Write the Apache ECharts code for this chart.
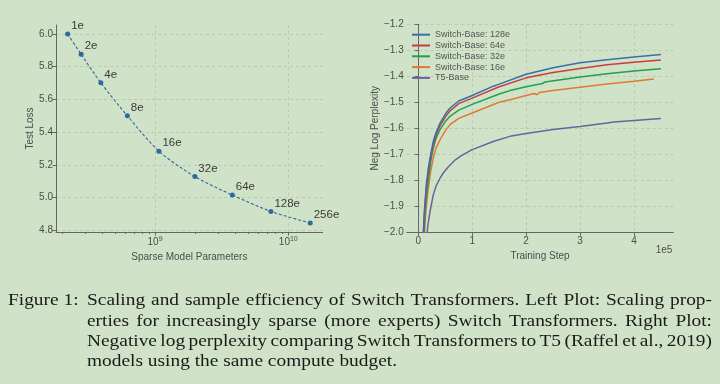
<!DOCTYPE html>
<html><head><meta charset="utf-8">
<script src="https://cdn.jsdelivr.net/npm/echarts@6/dist/echarts.min.js"></script>
<style>html,body{margin:0;padding:0;background:#d0e2c7}#c{width:720px;height:384px}</style>
</head><body><div id="c"></div>
<script>
// ---------- Left plot data ----------
const expertLabels = ['1e', '2e', '4e', '8e', '16e', '32e', '64e', '128e', '256e'];
const sparseParams = [2.21e8, 2.79e8, 3.92e8, 6.2e8, 1.07e9, 1.99e9, 3.8e9, 7.4e9, 1.46e10];
const testLoss = [6.0, 5.876, 5.702, 5.50, 5.284, 5.129, 5.016, 4.916, 4.845];
const lossTicks = [4.8, 5.0, 5.2, 5.4, 5.6, 5.8, 6.0];
const paramMajorTicks = [1e9, 1e10];
const paramMinorTicks = [2e8, 3e8, 4e8, 5e8, 6e8, 7e8, 8e8, 9e8, 2e9, 3e9, 4e9, 5e9, 6e9, 7e9, 8e9, 9e9];

// ---------- Right plot data ----------
const seriesNames = ['Switch-Base: 128e', 'Switch-Base: 64e', 'Switch-Base: 32e', 'Switch-Base: 16e', 'T5-Base'];
const steps128 = [9000, 10500, 12000, 15000, 18600, 23000, 27800, 33000, 40300, 50000, 58800, 75000, 100000, 139000, 150000, 200000, 250000, 300000, 350000, 400000, 450000];
const ppl128 = [-2.02, -1.95, -1.895, -1.815, -1.753, -1.700, -1.650, -1.615, -1.580, -1.546, -1.522, -1.495, -1.474, -1.438, -1.430, -1.392, -1.367, -1.348, -1.336, -1.326, -1.316];
const steps64 = [9000, 10500, 12000, 15000, 18600, 23000, 27800, 33000, 40300, 50000, 58800, 75000, 100000, 150000, 200000, 250000, 300000, 350000, 400000, 450000];
const ppl64 = [-2.03, -1.96, -1.91, -1.83, -1.77, -1.712, -1.662, -1.625, -1.590, -1.557, -1.533, -1.505, -1.484, -1.440, -1.406, -1.385, -1.370, -1.356, -1.346, -1.337];
const steps32 = [10000, 11500, 13000, 15500, 18600, 23000, 27800, 33000, 40300, 50000, 58800, 75000, 100000, 150000, 170000, 200000, 230000, 235000, 300000, 350000, 400000, 450000];
const ppl32 = [-2.02, -1.96, -1.91, -1.85, -1.80, -1.73, -1.676, -1.638, -1.605, -1.574, -1.554, -1.530, -1.508, -1.468, -1.455, -1.440, -1.428, -1.422, -1.403, -1.390, -1.380, -1.371];
const steps16 = [11000, 12500, 14000, 16000, 18600, 23000, 27800, 33000, 40300, 50000, 58800, 75000, 100000, 150000, 170000, 200000, 215000, 220000, 225000, 250000, 300000, 350000, 400000, 437000];
const ppl16 = [-2.02, -1.97, -1.92, -1.88, -1.83, -1.765, -1.715, -1.675, -1.644, -1.610, -1.586, -1.562, -1.541, -1.500, -1.490, -1.474, -1.466, -1.471, -1.462, -1.455, -1.442, -1.430, -1.419, -1.410];
const stepsT5 = [15500, 18000, 21700, 27800, 33000, 40300, 47000, 55000, 68100, 80000, 99000, 139000, 170000, 200000, 250000, 300000, 350000, 363000, 366000, 400000, 450000];
const pplT5 = [-2.02, -1.97, -1.921, -1.856, -1.822, -1.792, -1.770, -1.750, -1.722, -1.705, -1.683, -1.651, -1.631, -1.620, -1.605, -1.593, -1.580, -1.576, -1.579, -1.570, -1.562];
const stepTicks = [0, 100000, 200000, 300000, 400000];

// ---------- Caption ----------
const captionLabel = 'Figure 1:';
const captionLines = [
  'Scaling and sample efficiency of Switch Transformers.  Left Plot: Scaling prop-',
  'erties for increasingly sparse (more experts) Switch Transformers.  Right Plot:',
  'Negative log perplexity comparing Switch Transformers to T5 (Raffel et al., 2019)',
  'models using the same compute budget.'
];

const colors = ['#3a6fae', '#c63f3f', '#22a04f', '#e07a32', '#6c629e'];
const axisColor = '#666';
const labelColor = '#4d4d4d';
const gridLine = { show: true, lineStyle: { color: 'rgba(60,90,60,0.16)', type: [3, 3], width: 1 } };
const sans = 'Liberation Sans, Arial, sans-serif';

function pairs(xs, ys) { return xs.map((x, i) => [x, ys[i]]); }
function minus(v, d) { const s = Math.abs(v).toFixed(d); return v < 0 ? '\u2212' + s : s; }

const chart = echarts.init(document.getElementById('c'), null, { renderer: 'canvas' });

// caption layout with justified lines
const capFont = 'Liberation Serif, Times New Roman, serif';
const capFs = 17;
const cv = document.createElement('canvas').getContext('2d');
function w(text) { cv.font = capFs + 'px ' + capFont; return cv.measureText(text).width; }
let sx = 310 / w(captionLines[3]);
sx = Math.max(0.9, Math.min(1.3, sx));
const capLeft = 87, capRight = 712, capYs = [301, 321.3, 341.6, 362];
const graphics = [];
function capText(t, x, y) {
  return { type: 'text', x: x, y: y, scaleX: sx, style: { text: t, font: capFs + 'px ' + capFont, fill: '#1a1a1a', verticalAlign: 'middle' } };
}
graphics.push(capText(captionLabel, 8, capYs[0]));
captionLines.forEach((line, li) => {
  if (li === captionLines.length - 1) { graphics.push(capText(line, capLeft, capYs[li])); return; }
  const words = line.split(/\s+/);
  const widths = words.map(t => w(t) * sx);
  const total = widths.reduce((a, b) => a + b, 0);
  const gap = (capRight - capLeft - total) / (words.length - 1);
  let x = capLeft;
  words.forEach((t, i) => { graphics.push(capText(t, x, capYs[li])); x += widths[i] + gap; });
});
graphics.push({ type: 'text', x: 664, y: 250, style: { text: '1e5', font: '10px ' + sans, fill: labelColor, align: 'center', verticalAlign: 'middle' } });

const logMin = Math.pow(10, 8.257), logMax = Math.pow(10, 10.258);

const option = {
  backgroundColor: '#d0e2c7',
  animation: false,
  textStyle: { fontFamily: sans },
  grid: [
    { left: 56, top: 25, width: 266.7, height: 207, containLabel: false },
    { left: 406.7, top: 24.3, width: 266.6, height: 208, containLabel: false }
  ],
  legend: {
    left: 412, top: 29.3, orient: 'vertical', padding: 0, itemGap: 0,
    icon: 'rect', itemWidth: 18, itemHeight: 2,
    textStyle: { fontSize: 9, color: '#555', lineHeight: 10.8, fontFamily: sans },
    data: seriesNames
  },
  xAxis: [
    {
      type: 'log', logBase: 10, gridIndex: 0, min: logMin, max: logMax,
      name: 'Sparse Model Parameters', nameLocation: 'middle', nameGap: 13,
      nameTextStyle: { fontSize: 10, color: labelColor, verticalAlign: 'top' },
      axisLine: { show: true, lineStyle: { color: axisColor } },
      axisTick: { show: true, length: 3.5, customValues: paramMajorTicks, lineStyle: { color: axisColor } },
      axisLabel: {
        customValues: paramMajorTicks, margin: 4, color: labelColor, fontSize: 10,
        formatter: v => '10{s|' + Math.round(Math.log10(v)) + '}',
        rich: { s: { fontSize: 7, verticalAlign: 'top', color: labelColor, padding: [0, 0, 5, 0] } }
      },
      splitLine: gridLine
    },
    {
      type: 'log', logBase: 10, gridIndex: 0, min: logMin, max: logMax, position: 'bottom',
      axisLine: { show: false },
      axisTick: { show: true, length: 2, customValues: paramMinorTicks, lineStyle: { color: axisColor } },
      axisLabel: { show: false },
      splitLine: { show: false }
    },
    {
      type: 'value', gridIndex: 1, min: -21500, max: 473000,
      name: 'Training Step', nameLocation: 'middle', nameGap: 13,
      nameTextStyle: { fontSize: 10, color: labelColor, verticalAlign: 'top' },
      axisLine: { show: true, lineStyle: { color: axisColor } },
      axisTick: { show: true, length: 3.5, customValues: stepTicks, lineStyle: { color: axisColor } },
      axisLabel: { customValues: stepTicks, margin: 4, color: labelColor, fontSize: 10, formatter: v => String(Math.round(v / 1e5)) },
      splitLine: gridLine
    }
  ],
  yAxis: [
    {
      type: 'value', gridIndex: 0, min: 4.79, max: 6.055,
      name: 'Test Loss', nameLocation: 'middle', nameGap: 19,
      nameTextStyle: { fontSize: 10, color: labelColor },
      axisLine: { show: true, lineStyle: { color: axisColor } },
      axisTick: { show: true, length: 3.5, customValues: lossTicks, lineStyle: { color: axisColor } },
      axisLabel: { customValues: lossTicks, margin: 3, color: labelColor, fontSize: 10, formatter: v => v.toFixed(1) },
      splitLine: gridLine
    },
    {
      type: 'value', gridIndex: 1, min: -2.0, max: -1.2, interval: 0.1,
      name: 'Neg Log Perplexity', nameLocation: 'middle', nameGap: 25,
      nameTextStyle: { fontSize: 10, color: labelColor },
      axisLine: { show: true, lineStyle: { color: axisColor } },
      axisTick: { show: true, length: 3.5, lineStyle: { color: axisColor } },
      axisLabel: { margin: 3, color: labelColor, fontSize: 10, formatter: v => minus(v, 1) },
      splitLine: gridLine
    }
  ],
  series: [
    {
      type: 'line', xAxisIndex: 0, yAxisIndex: 0,
      data: pairs(sparseParams, testLoss),
      symbol: 'circle', symbolSize: 5,
      itemStyle: { color: '#2d6a9f' },
      lineStyle: { color: '#2d6a9f', width: 1.1, type: [3, 2] },
      smooth: 0.3,
      label: {
        show: true, position: 'right', distance: 1, offset: [0, -8],
        formatter: p => expertLabels[p.dataIndex], fontSize: 11.5, color: '#3a3a3a', fontFamily: sans
      }
    },
    ...[[steps128, ppl128], [steps64, ppl64], [steps32, ppl32], [steps16, ppl16], [stepsT5, pplT5]].map((d, i) => ({
      name: seriesNames[i], type: 'line', xAxisIndex: 2, yAxisIndex: 1,
      data: pairs(d[0], d[1]), showSymbol: false, symbol: 'none',
      smooth: false, clip: true,
      itemStyle: { color: colors[i] },
      lineStyle: { color: colors[i], width: 1.5 },
      z: 10 - i
    }))
  ],
  graphic: graphics
};
chart.setOption(option);
</script></body></html>
